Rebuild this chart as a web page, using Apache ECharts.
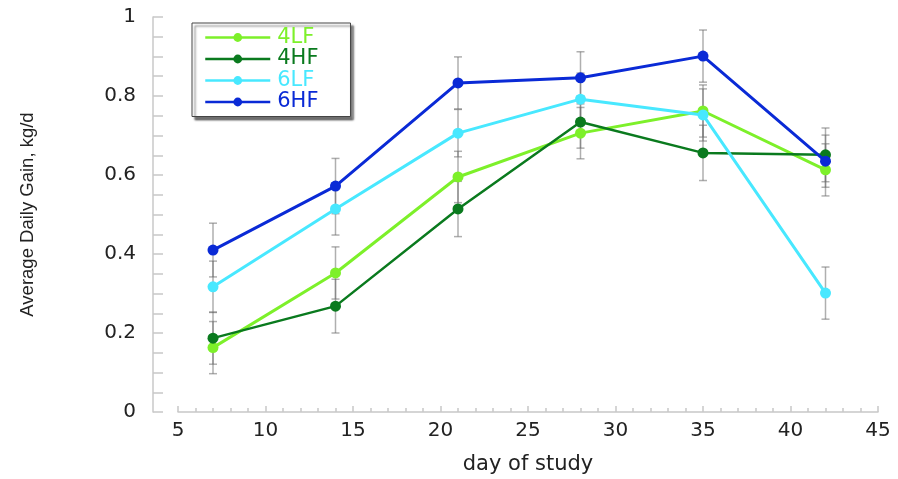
<!DOCTYPE html>
<html>
<head>
<meta charset="utf-8">
<script src="https://cdn.jsdelivr.net/npm/echarts@6/dist/echarts.min.js"></script>
<style>html,body{margin:0;padding:0;background:#fff;}#c{width:898px;height:479px;}</style>
</head>
<body>
<div id="c"></div>
<script>
const days = [7, 14, 21, 28, 35, 42];
const names = ['4LF', '4HF', '6LF', '6HF'];
const lf4 = [0.163, 0.352, 0.595, 0.706, 0.762, 0.613];
const hf4 = [0.187, 0.268, 0.514, 0.734, 0.656, 0.651];
const lf6 = [0.317, 0.514, 0.706, 0.792, 0.752, 0.301];
const hf6 = [0.410, 0.572, 0.833, 0.846, 0.901, 0.635];
const lf4Err = [0.066, 0.066, 0.065, 0.065, 0.066, 0.066];
const hf4Err = [0.066, 0.068, 0.070, 0.066, 0.070, 0.068];
const lf6Err = [0.065, 0.066, 0.060, 0.066, 0.066, 0.066];
const hf6Err = [0.068, 0.070, 0.066, 0.066, 0.066, 0.066];
const yTicks = [0, 0.2, 0.4, 0.6, 0.8, 1];
const xTicks = [5, 10, 15, 20, 25, 30, 35, 40, 45];

const colors = ['#7DF02A', '#0A7A1E', '#48E8FF', '#0A2AD6'];
const widths = [3, 2.5, 3, 3];
const vals = [lf4, hf4, lf6, hf6];
const errs = [lf4Err, hf4Err, lf6Err, hf6Err];

const chart = echarts.init(document.getElementById('c'), null, {renderer: 'canvas'});
const series = [];
vals.forEach((v, i) => {
  series.push({
    type: 'custom',
    name: names[i] + ' err',
    z: 1,
    silent: true,
    data: days.map((d, j) => [d, v[j] - errs[i][j], v[j] + errs[i][j]]),
    renderItem: function (params, api) {
      const lo = api.coord([api.value(0), api.value(1)]);
      const hi = api.coord([api.value(0), api.value(2)]);
      const w = 4;
      const st = {stroke: 'rgba(110,110,110,0.55)', lineWidth: 1.5};
      return {type: 'group', children: [
        {type: 'line', shape: {x1: lo[0], y1: lo[1], x2: hi[0], y2: hi[1]}, style: st},
        {type: 'line', shape: {x1: lo[0] - w, y1: lo[1], x2: lo[0] + w, y2: lo[1]}, style: st},
        {type: 'line', shape: {x1: hi[0] - w, y1: hi[1], x2: hi[0] + w, y2: hi[1]}, style: st}
      ]};
    }
  });
});
vals.forEach((v, i) => {
  series.push({
    type: 'line',
    name: names[i],
    z: 2 + i,
    data: days.map((d, j) => [d, v[j]]),
    symbol: 'circle',
    symbolSize: 11,
    itemStyle: {color: colors[i]},
    lineStyle: {color: colors[i], width: widths[i]}
  });
});

chart.setOption({
  animation: false,
  backgroundColor: '#fff',
  grid: {left: 178, right: 20, top: 17, bottom: 67, containLabel: false, outerBoundsMode: 'none'},
  legend: {
    left: 192, top: 23,
    orient: 'vertical',
    data: names.map((n, i) => ({name: n, textStyle: {color: colors[i]}})),
    itemWidth: 65, itemHeight: 11, itemGap: 0.5,
    padding: [4, 32, 4, 12],
    backgroundColor: '#fff',
    borderColor: '#444', borderWidth: 1, borderRadius: 0,
    shadowColor: 'rgba(0,0,0,0.55)', shadowBlur: 2, shadowOffsetX: 3, shadowOffsetY: 3,
    lineStyle: {width: 2.5},
    textStyle: {fontFamily: 'DejaVu Sans', fontSize: 21, lineHeight: 19, padding: [0, 0, 0, 2]}
  },
  xAxis: {
    type: 'value', min: 5, max: 45, interval: 5,
    name: 'day of study', nameLocation: 'middle', nameGap: 42,
    nameTextStyle: {fontFamily: 'DejaVu Sans', fontSize: 21, color: '#222'},
    axisLine: {show: true, onZero: false, lineStyle: {color: '#c8c8c8', width: 1.5}},
    axisTick: {show: true, inside: true, length: 6, lineStyle: {color: '#c8c8c8', width: 1.5}},
    minorTick: {show: true, splitNumber: 5, length: 4, lineStyle: {color: '#c8c8c8', width: 1.5}},
    splitLine: {show: false},
    axisLabel: {fontFamily: 'DejaVu Sans', fontSize: 20, color: '#222', margin: 9,
      formatter: v => (xTicks.indexOf(v) >= 0 ? String(v) : '')}
  },
  yAxis: {
    type: 'value', min: 0, max: 1, interval: 0.2, offset: 25,
    name: 'Average Daily Gain, kg/d', nameLocation: 'middle', nameGap: 116,
    nameTextStyle: {fontFamily: 'Liberation Sans', fontSize: 18.5, color: '#222'},
    axisLine: {show: true, lineStyle: {color: '#c8c8c8', width: 1.5}},
    axisTick: {show: true, inside: true, length: 10, lineStyle: {color: '#c8c8c8', width: 1.5}},
    minorTick: {show: true, splitNumber: 4, length: 10, lineStyle: {color: '#c8c8c8', width: 1.5}},
    splitLine: {show: false},
    axisLabel: {fontFamily: 'DejaVu Sans', fontSize: 20, color: '#222', margin: 17,
      formatter: v => {const t = yTicks.find(x => Math.abs(x - v) < 1e-9); return t === undefined ? '' : String(t);}}
  },
  series: series
});
</script>
</body>
</html>
